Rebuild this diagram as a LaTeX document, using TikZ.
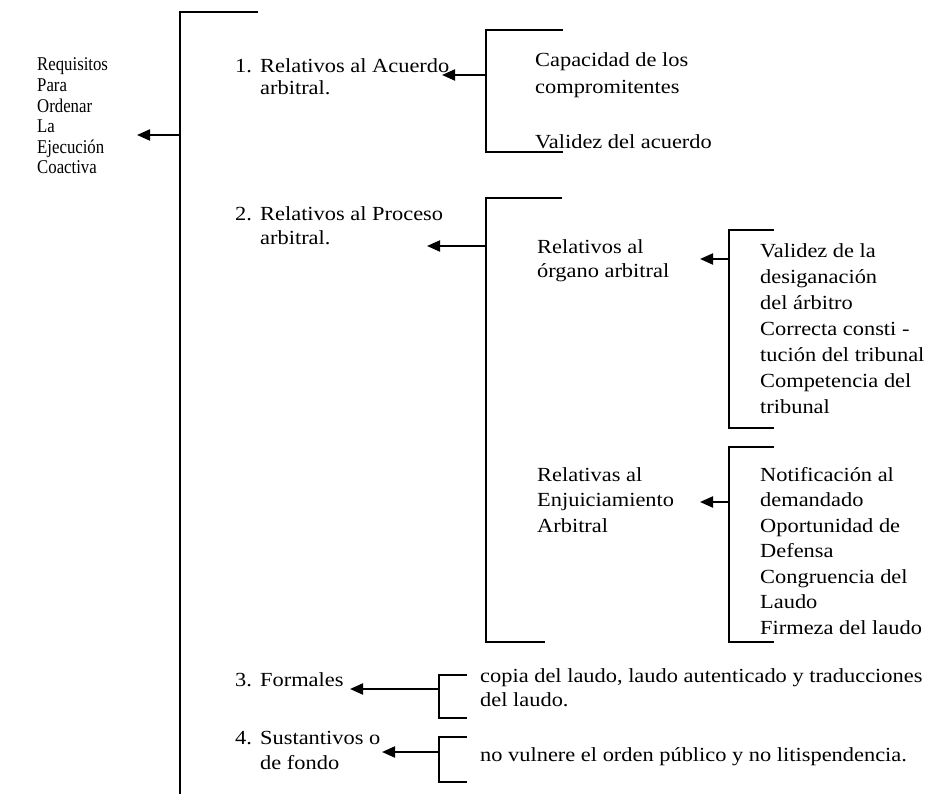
\documentclass[tikz,border=0pt]{standalone}
\usepackage{fontspec}
\setmainfont{Liberation Serif}[FakeStretch=1.12]
\newfontfamily\narrowfont{Liberation Serif}[FakeStretch=0.86]
\usetikzlibrary{arrows.meta}
\newcommand{\txtlines}[1]{\begin{tabular}[t]{@{}l@{}}#1\end{tabular}}
\newcommand{\numlines}[1]{\begin{tabular}[t]{@{}p{25pt}@{}l@{}}#1\end{tabular}}
\tikzset{
  txt/.style={anchor=base west, inner sep=0pt, font=\fontsize{20}{24}\selectfont},
  brk/.style={line width=1.4pt},
  arr/.style={line width=2pt, -{Triangle[length=13pt,width=11pt]}},
}
\begin{document}
\begin{tikzpicture}[x=1pt,y=-1pt]
  \useasboundingbox (0,0) rectangle (939,794);
  % texts
  \node[txt, font=\narrowfont\fontsize{19.5}{20.6}\selectfont] (req) at (37,71)
    {\txtlines{Requisitos\\Para\\Ordenar\\La\\Ejecución\\Coactiva}};
  \node[txt, font=\fontsize{20}{22}\selectfont] (r1) at (235,73) {\numlines{1.&Relativos al Acuerdo\\&arbitral.}};
  \node[txt, font=\fontsize{20}{27}\selectfont] (cap) at (535,67) {\txtlines{Capacidad de los\\compromitentes}};
  \node[txt] (val) at (535,149) {Validez del acuerdo};
  \node[txt, font=\fontsize{20}{24}\selectfont] (r2) at (235,221) {\numlines{2.&Relativos al Proceso\\&arbitral.}};
  \node[txt, font=\fontsize{20}{24}\selectfont] (org) at (537,254) {\txtlines{Relativos al\\órgano arbitral}};
  \node[txt, font=\fontsize{20}{25.9}\selectfont] (org-l) at (760,258)
    {\txtlines{Validez de la\\desiganación\\del árbitro\\Correcta consti -\\tución del tribunal\\Competencia del\\tribunal}};
  \node[txt, font=\fontsize{20}{25.5}\selectfont] (enj) at (537,481) {\txtlines{Relativas al\\Enjuiciamiento\\Arbitral}};
  \node[txt, font=\fontsize{20}{25.5}\selectfont] (enj-l) at (760,481)
    {\txtlines{Notificación al\\demandado\\Oportunidad de\\Defensa\\Congruencia del\\Laudo\\Firmeza del laudo}};
  \node[txt] (r3) at (235,686) {\numlines{3.&Formales}};
  \node[txt, font=\fontsize{20}{24}\selectfont] (copia) at (480,682)
    {\txtlines{copia del laudo, laudo autenticado y traducciones\\del laudo.}};
  \node[txt, font=\fontsize{20}{25}\selectfont] (r4) at (235,744) {\numlines{4.&Sustantivos o\\&de fondo}};
  \node[txt] (orden) at (480,761) {no vulnere el orden público y no litispendencia.};
  % brackets
  \draw[brk] (258,12) -- (180,12) -- (180,794);
  \foreach \x/\t/\b/\et/\eb in {486/30/152/563/563, 486/198/642/562/545,
      729/230/428/774/774, 729/447/642/774/774, 439/675/718/467/467, 439/737/782/467/467}
    \draw[brk] (\et,\t) -- (\x,\t) -- (\x,\b) -- (\eb,\b);
  % arrows
  \coordinate (m) at (180,135);    \coordinate (tm) at (137,135);
  \coordinate (b1) at (486,75);    \coordinate (t1) at (442,75);
  \coordinate (b2) at (486,246);   \coordinate (t2) at (427,246);
  \coordinate (b2a) at (729,259);  \coordinate (t2a) at (700,259);
  \coordinate (b2b) at (729,502);  \coordinate (t2b) at (700,502);
  \coordinate (b3) at (439,689);   \coordinate (t3) at (350,689);
  \coordinate (b4) at (439,752);   \coordinate (t4) at (382,752);
  \foreach \s/\d in {m/tm, b1/t1, b2/t2, b2a/t2a, b2b/t2b, b3/t3, b4/t4}
    \draw[arr] (\s) -- (\d);
\end{tikzpicture}
\end{document}
